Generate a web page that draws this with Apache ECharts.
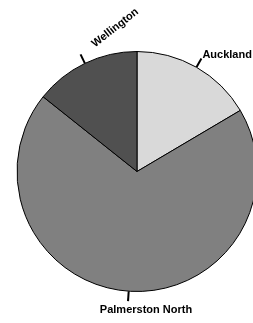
<!DOCTYPE html>
<html>
<head>
<meta charset="utf-8">
<script src="https://cdn.jsdelivr.net/npm/echarts@6/dist/echarts.min.js"></script>
<style>
  html, body { margin: 0; padding: 0; background: #fff; }
  #chart { width: 253px; height: 323px; }
</style>
</head>
<body>
<div id="chart"></div>
<script>
// values, share of the circle in %
const cities = ['Auckland', 'Palmerston North', 'Wellington'];
const shares = [16.5, 69.2, 14.3];
const fills = ['#d9d9d9', '#808080', '#505050'];

const pieCenter = [137, 171.5];

const chart = echarts.init(document.getElementById('chart'));

let pieData = [];
for (let i = 0; i < cities.length; i++) {
    pieData.push({
        name: cities[i],
        value: shares[i],
        itemStyle: { color: fills[i] }
    });
}

// put each label next to the end of its little tick, like the original
function placeLabel(params) {
    const pts = params.labelLinePoints;
    if (!pts) return {};
    const end = pts[pts.length - 1];
    const name = cities[params.dataIndex];
    let out = { labelLinePoints: pts };
    if (name === 'Auckland') {
        out.x = end[0] + 1;
        out.y = end[1] - 4;
        out.align = 'left';
        out.verticalAlign = 'middle';
    } else if (name === 'Wellington') {
        out.x = end[0] + 16;
        out.y = end[1] - 5;
        out.align = 'left';
        out.verticalAlign = 'bottom';
        out.rotate = 38;
    } else {
        out.x = pieCenter[0] + 9;
        out.y = end[1] + 3;
        out.align = 'center';
        out.verticalAlign = 'top';
    }
    return out;
}

chart.setOption({
    animation: false,
    series: [{
        type: 'pie',
        center: pieCenter,
        radius: 120,
        startAngle: 90,
        clockwise: true,
        avoidLabelOverlap: false,
        itemStyle: {
            borderColor: '#000',
            borderWidth: 1
        },
        label: {
            show: true,
            position: 'outside',
            color: '#000',
            fontFamily: 'Liberation Sans, Arial, sans-serif',
            fontWeight: 'bold',
            fontSize: 11
        },
        labelLine: {
            show: true,
            length: 10,
            length2: 0,
            lineStyle: { color: '#000', width: 2 }
        },
        labelLayout: placeLabel,
        data: pieData
    }]
});
</script>
</body>
</html>
